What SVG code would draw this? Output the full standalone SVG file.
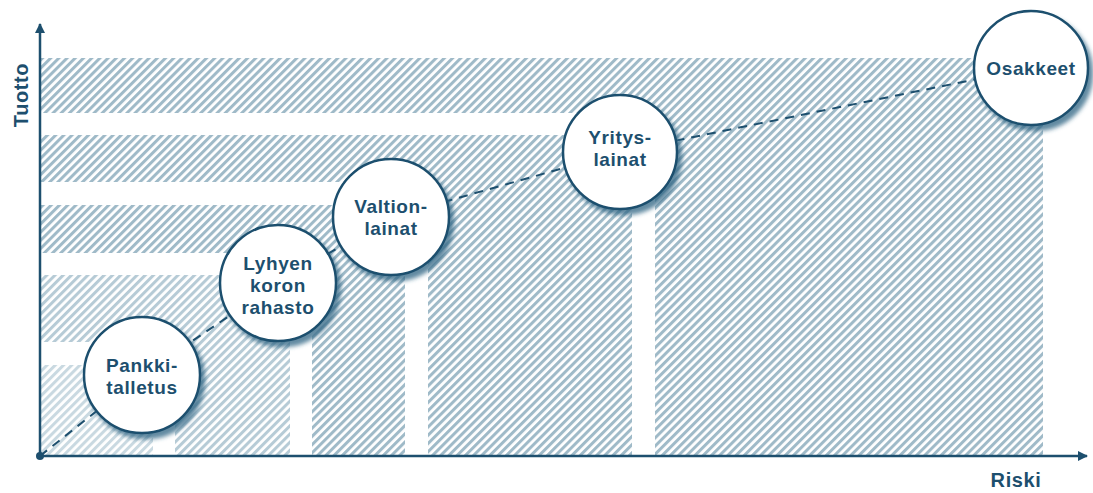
<svg xmlns="http://www.w3.org/2000/svg" width="1093" height="493" viewBox="0 0 1093 493">
  <style>
    .lbl { font-family: "Liberation Sans", Arial, sans-serif; font-weight: 700; font-size: 19px; letter-spacing: 0.6px; fill: #1d4f6e; text-anchor: middle; }
    .axlbl { font-family: "Liberation Sans", Arial, sans-serif; font-weight: 700; font-size: 20px; letter-spacing: 0.6px; fill: #1d4f6e; text-anchor: middle; }
    .node circle { fill: #ffffff; stroke: #1d4f6e; stroke-width: 2.5; filter: url(#shadow); }
    .gap { fill: #ffffff; }
    .axis { stroke: #1d4f6e; stroke-width: 2.5; fill: none; }
    .dash { stroke: #1d4f6e; stroke-width: 2; fill: none; stroke-dasharray: 9 7; }
  </style>
  <defs>
    <pattern id="h1" patternUnits="userSpaceOnUse" width="5.8" height="10" patternTransform="rotate(45)">
      <rect x="0" y="0" width="5.8" height="10" fill="#ffffff"/>
      <rect x="0" y="0" width="3" height="10" fill="#c9d9e1"/>
    </pattern>
    <pattern id="h2" patternUnits="userSpaceOnUse" width="5.8" height="10" patternTransform="rotate(45)">
      <rect x="0" y="0" width="5.8" height="10" fill="#ffffff"/>
      <rect x="0" y="0" width="3" height="10" fill="#b6cbd6"/>
    </pattern>
    <pattern id="h3" patternUnits="userSpaceOnUse" width="5.8" height="10" patternTransform="rotate(45)">
      <rect x="0" y="0" width="5.8" height="10" fill="#ffffff"/>
      <rect x="0" y="0" width="3" height="10" fill="#9fbac8"/>
    </pattern>
    <filter id="shadow" x="-20%" y="-20%" width="150%" height="150%">
      <feDropShadow dx="4" dy="5" stdDeviation="2" flood-color="#2f6483" flood-opacity="0.75"/>
    </filter>
    <marker id="arr" viewBox="0 0 10 10" refX="9" refY="5" markerWidth="10" markerHeight="10" markerUnits="userSpaceOnUse" orient="auto">
      <path d="M0,0 L10,5 L0,10 Z" fill="#1d4f6e"/>
    </marker>
  </defs>

  <g id="areas">
    <rect x="40" y="58" width="1003" height="398" fill="url(#h3)"/>
    <rect class="gap" x="40" y="113" width="615" height="343"/>
    <rect x="40" y="135" width="592" height="321" fill="url(#h3)"/>
    <rect class="gap" x="40" y="182" width="388" height="274"/>
    <rect x="40" y="205" width="365" height="251" fill="url(#h3)"/>
    <rect class="gap" x="40" y="253" width="272" height="203"/>
    <rect x="40" y="275" width="250" height="181" fill="url(#h2)"/>
    <rect class="gap" x="40" y="342" width="135" height="114"/>
    <rect x="40" y="365" width="113" height="91" fill="url(#h1)"/>
  </g>

  <g id="axes">
    <line class="axis" x1="40" y1="456" x2="40" y2="24" marker-end="url(#arr)"/>
    <line class="axis" x1="40" y1="456" x2="1087" y2="456" marker-end="url(#arr)"/>
    <circle cx="40" cy="456" r="4" fill="#1d4f6e"/>
    <text class="axlbl" transform="translate(28,95) rotate(-90)">Tuotto</text>
    <text class="axlbl" x="1016" y="487">Riski</text>
  </g>

  <g id="connectors">
    <polyline class="dash" points="40,456 142,375 278,283 391,217 620,152 1031,68"/>
  </g>

  <g id="pankkitalletus" class="node">
    <circle cx="142" cy="375" r="58"/>
    <text class="lbl" x="142" y="372">Pankki-</text>
    <text class="lbl" x="142" y="394">talletus</text>
  </g>
  <g id="lyhyen-koron-rahasto" class="node">
    <circle cx="278" cy="283" r="58"/>
    <text class="lbl" x="278" y="270">Lyhyen</text>
    <text class="lbl" x="278" y="292">koron</text>
    <text class="lbl" x="278" y="314">rahasto</text>
  </g>
  <g id="valtionlainat" class="node">
    <circle cx="391" cy="217" r="58"/>
    <text class="lbl" x="391" y="213">Valtion-</text>
    <text class="lbl" x="391" y="235">lainat</text>
  </g>
  <g id="yrityslainat" class="node">
    <circle cx="620" cy="152" r="57"/>
    <text class="lbl" x="620" y="144">Yritys-</text>
    <text class="lbl" x="620" y="166">lainat</text>
  </g>
  <g id="osakkeet" class="node">
    <circle cx="1031" cy="68" r="57"/>
    <text class="lbl" x="1031" y="75">Osakkeet</text>
  </g>
</svg>
